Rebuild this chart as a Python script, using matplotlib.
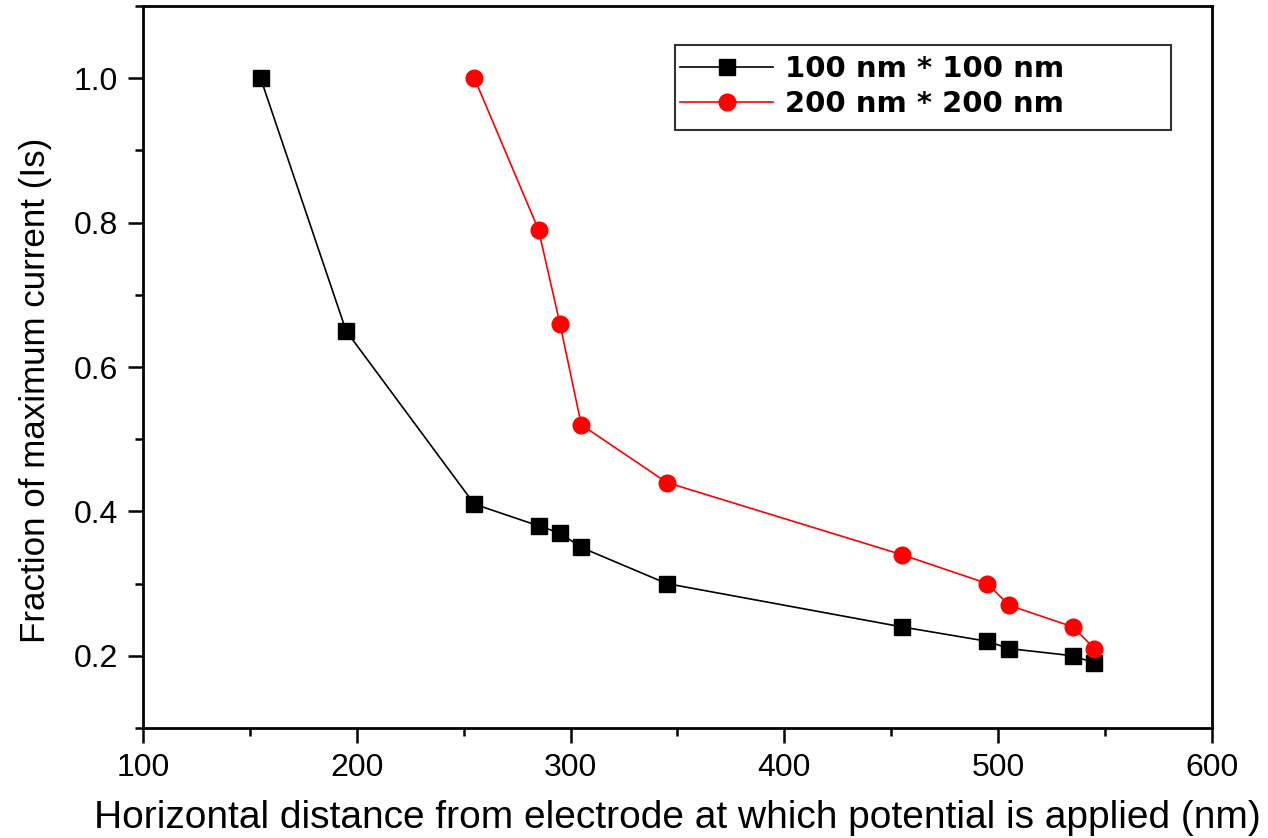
import numpy as np
import matplotlib
matplotlib.use("Agg")
import matplotlib.pyplot as plt
from matplotlib.patches import Rectangle
from matplotlib.ticker import MultipleLocator

# datos
dist_100 = [155, 195, 255, 285, 295, 305, 345, 455, 495, 505, 535, 545]
frac_100 = [1.00, 0.65, 0.41, 0.38, 0.37, 0.35, 0.30, 0.24, 0.22, 0.21, 0.20, 0.19]

dist_200 = [255, 285, 295, 305, 345, 455, 495, 505, 535, 545]
frac_200 = [1.00, 0.79, 0.66, 0.52, 0.44, 0.34, 0.30, 0.27, 0.24, 0.21]

labels = ['100 nm * 100 nm', '200 nm * 200 nm']

plt.rcParams['font.family'] = ['Liberation Sans', 'DejaVu Sans']

W, H = 1268, 838
fig = plt.figure(figsize=(W / 100, H / 100), dpi=100)
ax = fig.add_axes([0.1128, 0.1313, 0.8430, 0.8615])

ax.plot(dist_100, frac_100, color='black', linewidth=1.2, marker='s',
        markersize=11, label=labels[0])
ax.plot(dist_200, frac_200, color='red', linewidth=1.2, marker='o',
        markersize=12, label=labels[1])

ax.set_xlim(100, 600)
ax.set_ylim(0.1, 1.1)
ax.xaxis.set_major_locator(MultipleLocator(100))
ax.xaxis.set_minor_locator(MultipleLocator(50))
ax.yaxis.set_minor_locator(MultipleLocator(0.1))
ax.set_yticks([0.2, 0.4, 0.6, 0.8, 1.0])
ax.set_yticklabels(['0.2', '0.4', '0.6', '0.8', '1.0'])

for s in ax.spines.values():
    s.set_linewidth(2)
ax.tick_params(which='major', direction='out', length=11, width=1.8,
               labelsize=23, pad=7)
ax.tick_params(which='minor', direction='out', length=6, width=1.8)

ax.set_xlabel('Horizontal distance from electrode at which potential is applied (nm)',
              fontsize=28, labelpad=12)
ax.set_ylabel('Fraction of maximum current (Is)', fontsize=25.2)
ax.yaxis.set_label_coords(-0.085, 0.467)

# leyenda sin marco + recuadro más ancho (como en el original)
leg = ax.legend(loc='upper left', bbox_to_anchor=(680 / W, 1 - 55 / H),
                bbox_transform=fig.transFigure,
                prop={'family': 'DejaVu Sans', 'weight': 'bold', 'size': 21},
                frameon=False, handlelength=3.2, borderaxespad=0,
                borderpad=0, labelspacing=0.25, handletextpad=0.4)
box = Rectangle((675 / W, 1 - 130 / H), 496 / W, 85 / H,
                transform=fig.transFigure, facecolor='none',
                edgecolor='#333333', linewidth=1.5, zorder=5)
fig.patches.append(box)

fig.savefig('out.png', dpi=100)
